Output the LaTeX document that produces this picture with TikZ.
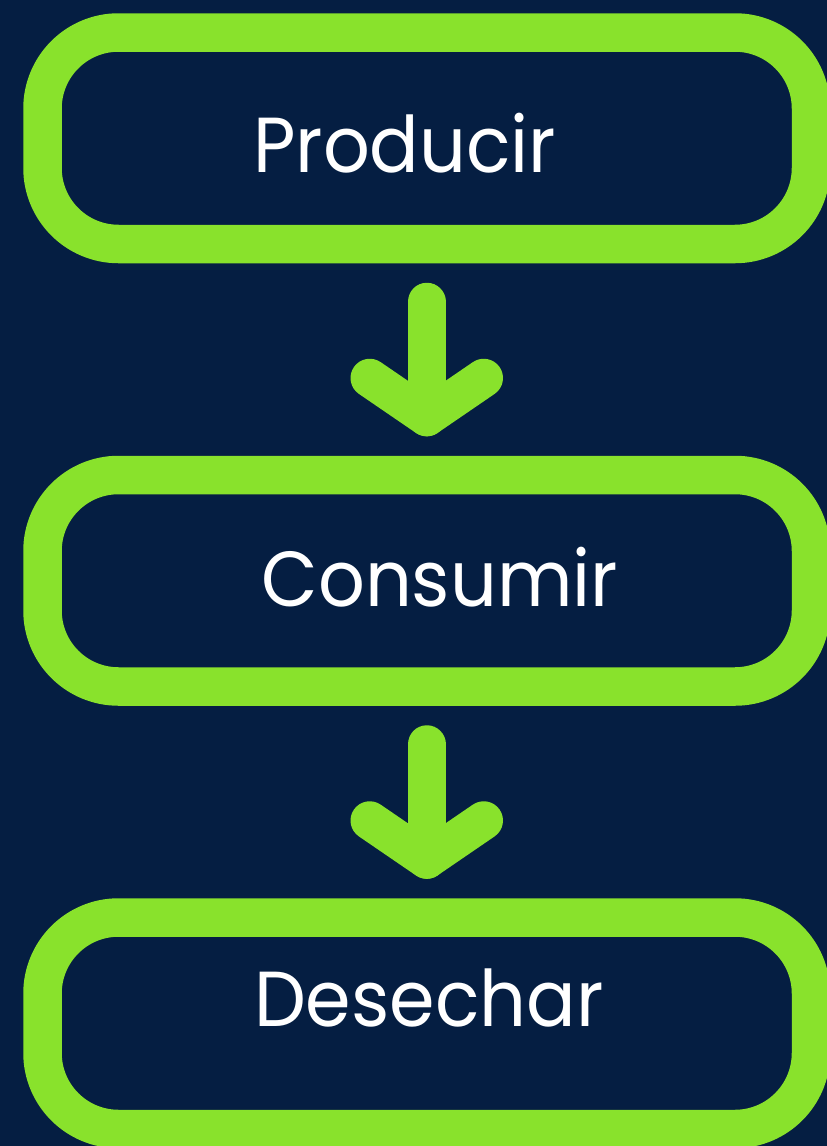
\documentclass[tikz,border=0pt]{standalone}
\usepackage{fontspec}
\setmainfont[FakeStretch=0.94]{Poppins}
\usetikzlibrary{positioning}

\definecolor{fondo}{RGB}{5,30,66}
\definecolor{verde}{RGB}{137,226,44}

\tikzset{
  caja/.style={draw=verde, line width=38.5pt, rounded corners=76pt,
    minimum width=768.5pt, minimum height=211.5pt, inner sep=0pt, outer sep=0pt},
  texto/.style={text=white, anchor=base, inner sep=0pt,
    font=\fontsize{78}{90}\selectfont},
  flecha/.style={draw=verde, line width=38.5pt, line cap=round, line join=round}
}

\begin{document}
\begin{tikzpicture}[x=1pt,y=-1pt]

  % fondo
  \fill[fondo] (0,0) rectangle (827,1146);
  \useasboundingbox (0,0) rectangle (827,1146);

  % cajas
  \node[caja] (prod) at (426.75,138.25) {};
  \node[caja, below=231pt of prod] (cons) {};
  \node[caja, below=231pt of cons] (dese) {};

  % textos
  \node[texto] (tprod) at ([xshift=-22pt,yshift=-34pt]prod.center) {Producir};
  \node[texto] (tcons) at ([xshift=13pt,yshift=-25.5pt]cons.center) {Consumir};
  \node[texto] (tdese) at ([xshift=2pt,yshift=-3.5pt]dese.center) {Desechar};

  % flechas
  \coordinate (a1) at ([yshift=-58pt]prod.south);
  \coordinate (p1) at ([yshift=58pt]cons.north);
  \draw[flecha] (a1) -- (p1);
  \draw[flecha] ([xshift=-57pt,yshift=39pt]p1) -- (p1) -- ([xshift=57pt,yshift=39pt]p1);

  \coordinate (a2) at ([yshift=-58pt]cons.south);
  \coordinate (p2) at ([yshift=58pt]dese.north);
  \draw[flecha] (a2) -- (p2);
  \draw[flecha] ([xshift=-57pt,yshift=39pt]p2) -- (p2) -- ([xshift=57pt,yshift=39pt]p2);
\end{tikzpicture}
\end{document}
